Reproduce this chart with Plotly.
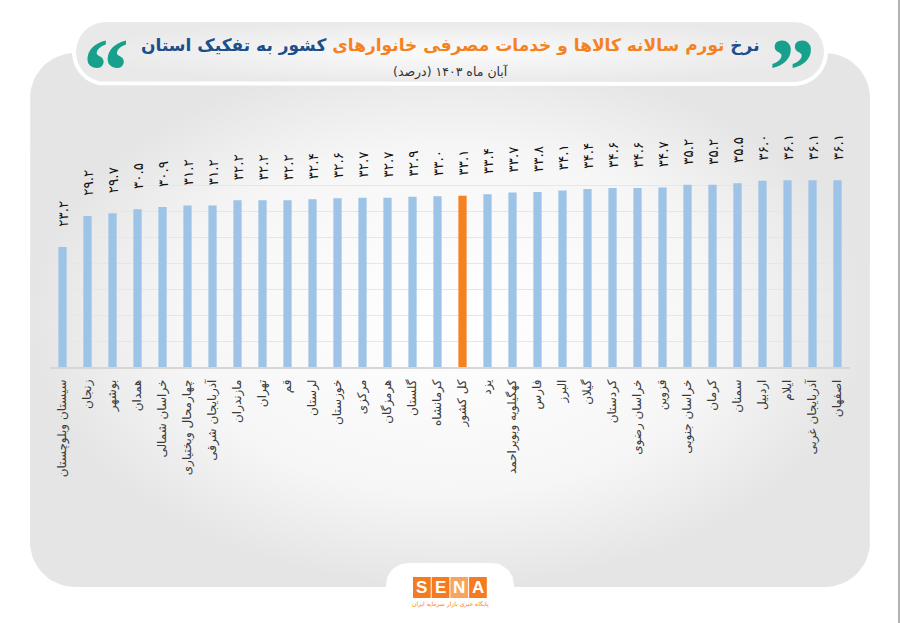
import numpy as np
import plotly.graph_objects as go

# annual CPI inflation by province, Aban 1403 (percent)
provinces = ['سیستان وبلوچستان', 'زنجان', 'بوشهر', 'همدان', 'خراسان شمالی',
             'چهارمحال وبختیاری', 'آذربایجان شرقی', 'مازندران', 'تهران', 'قم',
             'لرستان', 'خوزستان', 'مرکزی', 'هرمزگان', 'گلستان', 'کرمانشاه',
             'کل کشور', 'یزد', 'کهگیلویه وبویراحمد', 'فارس', 'البرز', 'گیلان',
             'کردستان', 'خراسان رضوی', 'قزوین', 'خراسان جنوبی', 'کرمان', 'سمنان',
             'اردبیل', 'ایلام', 'آذربایجان غربی', 'اصفهان']
inflation = [23.2, 29.2, 29.7, 30.5, 30.9, 31.2, 31.2, 32.2, 32.2, 32.2,
             32.4, 32.6, 32.7, 32.7, 32.9, 33.0, 33.1, 33.4, 33.7, 33.8,
             34.1, 34.4, 34.6, 34.6, 34.7, 35.2, 35.2, 35.5, 36.0, 36.1,
             36.1, 36.1]
highlight = 'کل کشور'

title_a = 'نرخ '
title_b = 'تورم سالانه کالاها و خدمات مصرفی خانوارهای '
title_c = 'کشور به تفکیک استان'
subtitle = 'آبان ماه ۱۴۰۳ (درصد)'
logo_letters = ['S', 'E', 'N', 'A']
logo_caption = 'پایگاه خبری بازار سرمایه ایران'

FA = "DejaVu Sans"
BLUE = '#9DC3E6'
ORANGE = '#F58220'
NAVY = '#1B4F8C'
TEAL = '#17A08C'

fa_digits = str.maketrans('0123456789', '۰۱۲۳۴۵۶۷۸۹')
def fa(v):
    return f'{v:.1f}'.translate(fa_digits)


def rounded_box(x0, y0, x1, y1, r_top, r_bot=None, n=16):
    # path in screen coords (y grows downwards)
    if r_bot is None:
        r_bot = r_top
    xs, ys = [], []
    for cx, cy, r, a0, a1 in [(x1 - r_top, y0 + r_top, r_top, -90, 0),
                              (x1 - r_bot, y1 - r_bot, r_bot, 0, 90),
                              (x0 + r_bot, y1 - r_bot, r_bot, 90, 180),
                              (x0 + r_top, y0 + r_top, r_top, 180, 270)]:
        t = np.radians(np.linspace(a0, a1, n))
        xs += list(cx + r * np.cos(t))
        ys += list(cy + r * np.sin(t))
    return xs + xs[:1], ys + ys[:1]


fig = go.Figure()

# background panel
px_, py_ = rounded_box(30, 53, 870, 587, 45)
fig.add_trace(go.Scatter(x=px_, y=py_, mode='lines', fill='toself',
                         line=dict(width=0, color='rgba(0,0,0,0)'),
                         fillgradient=dict(type='radial',
                                           colorscale=[[0, '#ffffff'], [0.65, '#f6f6f6'], [1, '#e5e5e6']]),
                         hoverinfo='skip', showlegend=False, xaxis='x', yaxis='y'))
# title pill
tx, ty = rounded_box(74, 20, 826, 84, 32)
fig.add_trace(go.Scatter(x=tx, y=ty, mode='lines', fill='toself',
                         line=dict(width=4, color='#ffffff'),
                         fillgradient=dict(type='radial',
                                           colorscale=[[0, '#fbfbfb'], [1, '#e9e9ea']]),
                         hoverinfo='skip', showlegend=False, xaxis='x', yaxis='y'))
# logo tab
lx, ly = rounded_box(386, 563, 514, 640, 22, 0)
fig.add_trace(go.Scatter(x=lx, y=ly, mode='lines', fill='toself',
                         line=dict(width=0, color='#ffffff'), fillcolor='#ffffff',
                         hoverinfo='skip', showlegend=False, xaxis='x', yaxis='y'))

# bars
fig.add_trace(go.Bar(
    x=provinces, y=inflation,
    marker=dict(color=[ORANGE if p == highlight else BLUE for p in provinces], line_width=0),
    width=0.33,
    text=['\u00a0\u00a0\u00a0\u00a0' + fa(v) for v in inflation],
    textposition='outside', textangle=-90, constraintext='none', cliponaxis=False,
    textfont=dict(family=FA, size=13.5, color='#111111'),
    hoverinfo='skip', showlegend=False, xaxis='x2', yaxis='y2'))

fig.update_layout(
    width=900, height=623,
    margin=dict(l=0, r=0, t=0, b=0),
    paper_bgcolor='#ffffff', plot_bgcolor='rgba(0,0,0,0)',
    xaxis=dict(domain=[0, 1], range=[0, 900], visible=False, fixedrange=True),
    yaxis=dict(domain=[0, 1], range=[623, 0], visible=False, fixedrange=True),
    xaxis2=dict(domain=[50 / 900, 850 / 900], anchor='y2', type='category',
                tickangle=-90, ticks='', showgrid=False, automargin=False,
                showline=True, linecolor='#d6d6d6', linewidth=1.5,
                tickfont=dict(family=FA, size=12, color='#3a3a3a'),
                ticklabelstandoff=6),
    yaxis2=dict(domain=[256 / 623, 463 / 623], anchor='x2', range=[0, 40], dtick=5,
                showticklabels=False, showgrid=True, gridcolor='#e6e6e6', gridwidth=1,
                zeroline=False, automargin=False),
    bargap=0.67,
)

# title texts
fig.add_annotation(x=450, y=45, xref='x', yref='y', showarrow=False,
                   text=(f"<b><span style='color:{NAVY}'>{title_a}</span>"
                         f"<span style='color:{ORANGE}'>{title_b}</span>"
                         f"<span style='color:{NAVY}'>{title_c}</span></b>"),
                   font=dict(family=FA, size=17, color=NAVY))
fig.add_annotation(x=450, y=72, xref='x', yref='y', showarrow=False, text=subtitle,
                   font=dict(family=FA, size=12.5, color='#333333'))
fig.add_annotation(x=106, y=70, xref='x', yref='y', showarrow=False, text='<b>“</b>',
                   font=dict(family='Liberation Serif', size=92, color=TEAL))
fig.add_annotation(x=792, y=70, xref='x', yref='y', showarrow=False, text='<b>”</b>',
                   font=dict(family='Liberation Serif', size=92, color=TEAL))

# SENA logo
for i, ch in enumerate(logo_letters):
    x0 = 413 + i * 18.7
    fig.add_shape(type='rect', xref='x', yref='y', x0=x0, x1=x0 + 17.7, y0=577, y1=598,
                  fillcolor='#F8A45E' if ch == 'N' else '#F47B20', line_width=0)
    fig.add_annotation(x=x0 + 8.85, y=587.5, xref='x', yref='y', showarrow=False,
                       text=f'<b>{ch}</b>', font=dict(family='Liberation Sans', size=17, color='#ffffff'))
fig.add_annotation(x=450, y=604, xref='x', yref='y', showarrow=False, text=logo_caption,
                   font=dict(family=FA, size=6, color=ORANGE))

fig.add_shape(type='line', xref='x', yref='y', x0=899, x1=899, y0=0, y1=623,
              line=dict(color='#9a9a9a', width=1.5))

# page body has a default 8px margin; drop it so the figure sits at the window corner
fig.write_html("out.html", config={'displayModeBar': False},
               post_script="document.body.style.margin='0';")
